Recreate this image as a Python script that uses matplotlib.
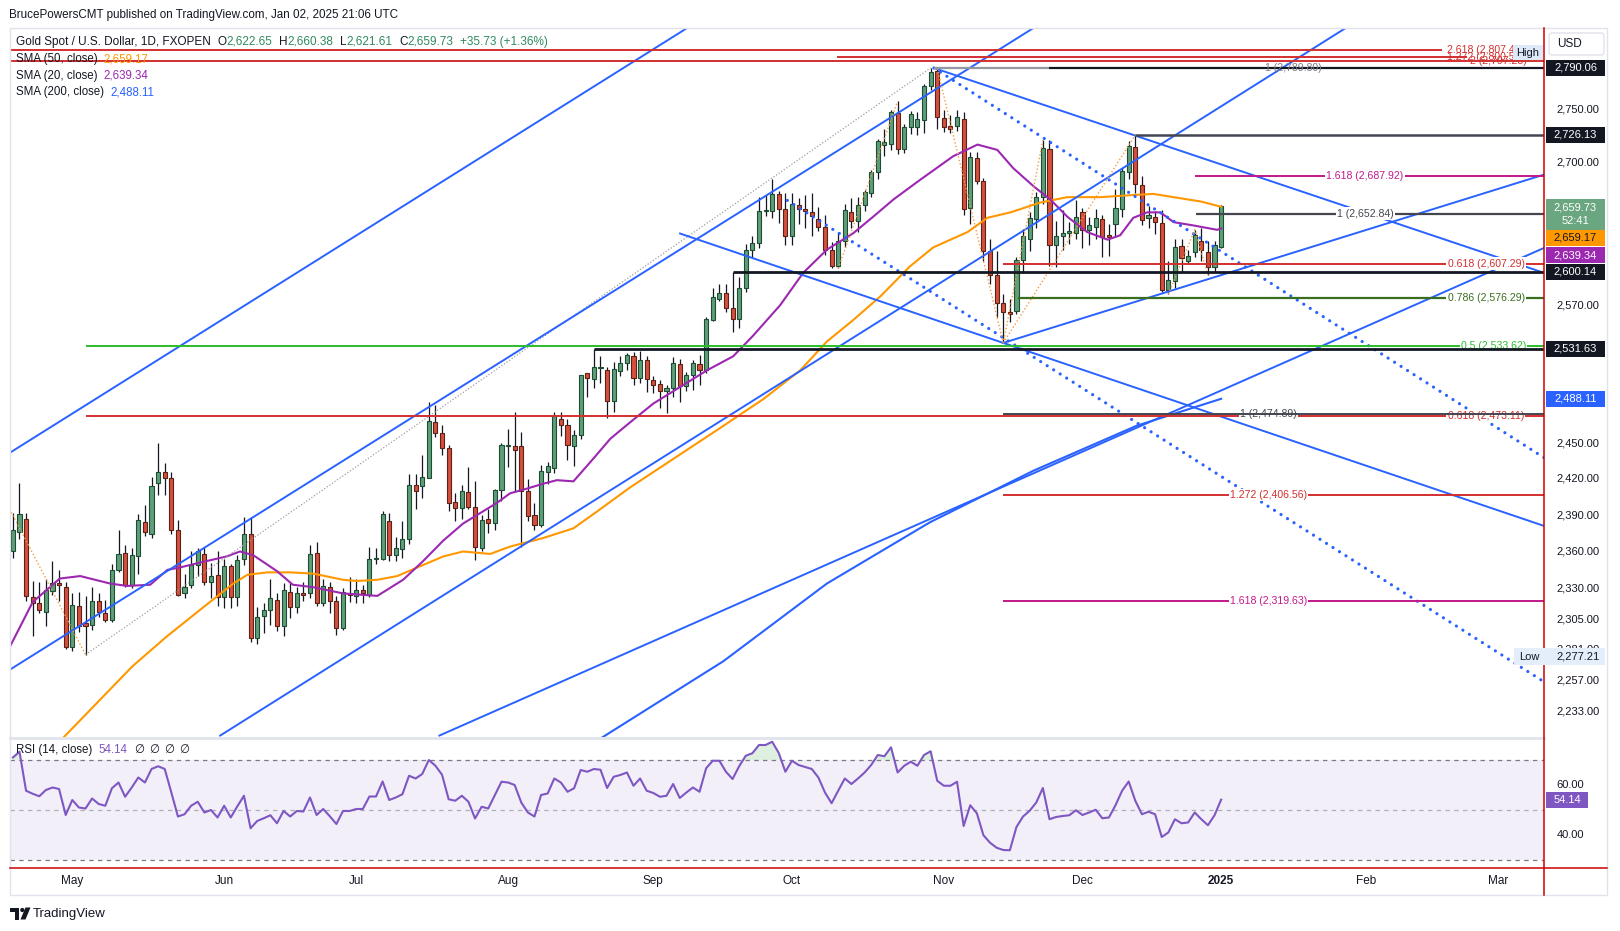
#!/usr/bin/env python3
# Gold Spot / USD daily (FXOPEN) — TradingView style chart, SMA 20/50/200, fib levels, RSI(14)
import numpy as np
import matplotlib
matplotlib.use("Agg")
import matplotlib.pyplot as plt
from matplotlib.patches import Rectangle, FancyBboxPatch, Polygon, Circle

plt.rcParams["font.family"] = ["Liberation Sans", "DejaVu Sans"]

W, H = 1620, 931

# ── candles: Apr 18 2024 .. Jan 02 2025, bar 0 = May 1 ─────────────
FIRST = -9
o_apr = [2360, 2376, 2387, 2323, 2318, 2311, 2328, 2334, 2331]
h_apr = [2392, 2417, 2392, 2336, 2335, 2338, 2352, 2345, 2335]
l_apr = [2355, 2370, 2320, 2292, 2310, 2300, 2325, 2320, 2282]
c_apr = [2378, 2391, 2324, 2318, 2313, 2329, 2334, 2333, 2283]

o_may = [2283, 2316, 2302, 2301, 2320, 2310, 2305, 2345, 2359, 2333, 2356, 2384, 2374, 2417, 2426, 2421, 2378, 2326, 2333, 2349, 2358, 2335, 2341]
h_may = [2326, 2327, 2324, 2331, 2326, 2321, 2350, 2378, 2365, 2363, 2391, 2398, 2422, 2450, 2433, 2426, 2386, 2342, 2360, 2363, 2364, 2351, 2360]
l_may = [2280, 2295, 2277.2, 2297, 2307, 2303, 2303, 2343, 2331, 2330, 2342, 2373, 2371, 2407, 2407, 2374, 2324, 2322, 2330, 2340, 2333, 2322, 2316]
c_may = [2317, 2300, 2300, 2320, 2311, 2305, 2345, 2358, 2333, 2357, 2386, 2376, 2414, 2426, 2421, 2378, 2325, 2331, 2349, 2360, 2335, 2340, 2323]

o_jun = [2323, 2348, 2323, 2354, 2374, 2290, 2308, 2313, 2321, 2300, 2327, 2315, 2326, 2326, 2359, 2318, 2331, 2320, 2298, 2326]
h_jun = [2354, 2350, 2357, 2388, 2388, 2315, 2318, 2338, 2326, 2334, 2334, 2331, 2335, 2365, 2368, 2338, 2335, 2324, 2330, 2339]
l_jun = [2314, 2314, 2316, 2349, 2287, 2286, 2294, 2301, 2296, 2292, 2306, 2310, 2320, 2322, 2316, 2316, 2310, 2293, 2297, 2319]
c_jun = [2348, 2323, 2353, 2374, 2290, 2307, 2313, 2322, 2300, 2329, 2315, 2326, 2325, 2358, 2318, 2332, 2320, 2298, 2327, 2325]

o_jul = [2324, 2329, 2325, 2354, 2354, 2385, 2357, 2362, 2370, 2415, 2414, 2421, 2468, 2459, 2446, 2401, 2396, 2409, 2397, 2363, 2387, 2383, 2411]
h_jul = [2338, 2333, 2364, 2363, 2393, 2392, 2372, 2385, 2424, 2424, 2440, 2485, 2483, 2466, 2449, 2408, 2415, 2430, 2418, 2390, 2395, 2412, 2450]
l_jul = [2318, 2318, 2323, 2350, 2353, 2352, 2352, 2355, 2366, 2395, 2404, 2421, 2455, 2440, 2393, 2385, 2387, 2395, 2353, 2360, 2375, 2378, 2402]
c_jul = [2329, 2326, 2354, 2355, 2391, 2357, 2363, 2370, 2415, 2410, 2422, 2469, 2459, 2446, 2400, 2396, 2410, 2397, 2364, 2386, 2383, 2411, 2449]

o_aug = [2448, 2448, 2448, 2410, 2390, 2382, 2426, 2429, 2471, 2466, 2448, 2457, 2510, 2505, 2515, 2513, 2486, 2512, 2519, 2525, 2506, 2522]
h_aug = [2462, 2477, 2460, 2420, 2400, 2432, 2434, 2477, 2477, 2471, 2461, 2509, 2510, 2531.6, 2525, 2516, 2520, 2525, 2528, 2529, 2530, 2525]
l_aug = [2430, 2410, 2364, 2385, 2378, 2380, 2416, 2425, 2456, 2436, 2431, 2454, 2490, 2497, 2502, 2472, 2477, 2508, 2513, 2500, 2502, 2494]
c_aug = [2448.5, 2444, 2410, 2389, 2382, 2427, 2431, 2473, 2466, 2449, 2457, 2509, 2506, 2516, 2515.5, 2486, 2514, 2519, 2526, 2506, 2522, 2505]

o_sep = [2504, 2501, 2495, 2497, 2518, 2499, 2509, 2518, 2513, 2557, 2576, 2581, 2568, 2558, 2585, 2620, 2626, 2655, 2655, 2671, 2657]
h_sep = [2508, 2504, 2500, 2524, 2523, 2511, 2522, 2526, 2560, 2585, 2589, 2589, 2600.1, 2595, 2625, 2632, 2668, 2670, 2685, 2674, 2672]
l_sep = [2493, 2480, 2476, 2490, 2485, 2495, 2496, 2500, 2510, 2556, 2574, 2564, 2546, 2550, 2582, 2612, 2621, 2651, 2649, 2644, 2624]
c_sep = [2500, 2495, 2497, 2519, 2499, 2509, 2519, 2513, 2558, 2577, 2581, 2568, 2558, 2585, 2620, 2626, 2655, 2655.5, 2671, 2657, 2632]

o_oct = [2632, 2661, 2657, 2654, 2648, 2641, 2620, 2605, 2628, 2654, 2646, 2661, 2672, 2691, 2717, 2718, 2747, 2713, 2734, 2734, 2740, 2773, 2787]
h_oct = [2672, 2667, 2670, 2672, 2659, 2652, 2627, 2636, 2662, 2667, 2668, 2675, 2693, 2722, 2732, 2750, 2758, 2736, 2749, 2748, 2775, 2790.06, 2789.5]
l_oct = [2624, 2643, 2640, 2632, 2637, 2615, 2603, 2603, 2622, 2640, 2636, 2655, 2668, 2685, 2706, 2712, 2708, 2709, 2727, 2726, 2728, 2769, 2732]
c_oct = [2662, 2657, 2655, 2651, 2641, 2620, 2605, 2628, 2656, 2646, 2661, 2673, 2691, 2720, 2719, 2748, 2713, 2734, 2746, 2741, 2773, 2786, 2743]

o_nov = [2742, 2735, 2735, 2741, 2658, 2704, 2683, 2619, 2597, 2572, 2564, 2565, 2611, 2630, 2648, 2668, 2713, 2624, 2632, 2635, 2635]
h_nov = [2750, 2745, 2750, 2748, 2710, 2710, 2686, 2630, 2619, 2580, 2576, 2613, 2639, 2654, 2673, 2721, 2721, 2646, 2656, 2645, 2665]
l_nov = [2729, 2728, 2730, 2652, 2643, 2680, 2610, 2589, 2560, 2536.7, 2555, 2562, 2599, 2619, 2640, 2662, 2605, 2604, 2620, 2625, 2630]
c_nov = [2734, 2732, 2743, 2657, 2705, 2683, 2619, 2597, 2572, 2564, 2562, 2611, 2632, 2649, 2668, 2714, 2624, 2632, 2635, 2637, 2650]

o_dec = [2654, 2638, 2641, 2648, 2633, 2643, 2657, 2691, 2715, 2679, 2649, 2650, 2644, 2584, 2592, 2623, 2610, 2618, 2628, 2618, 2604, 2622.65]
h_dec = [2658, 2650, 2657, 2652, 2643, 2676, 2695, 2720, 2726.1, 2688, 2660, 2655, 2656, 2610, 2630, 2630, 2620, 2638, 2640, 2628, 2628, 2660.38]
l_dec = [2621, 2624, 2630, 2613, 2614, 2631, 2650, 2685, 2672, 2642, 2640, 2634, 2582, 2580, 2585, 2600, 2607, 2613, 2610, 2597, 2600, 2621.61]
c_dec = [2638, 2642, 2649, 2631, 2631.5, 2658, 2692, 2716, 2680, 2647, 2652, 2645, 2584, 2593, 2622, 2612, 2614, 2633, 2620, 2604, 2624, 2659.73]

opens = o_apr + o_may + o_jun + o_jul + o_aug + o_sep + o_oct + o_nov + o_dec
highs = h_apr + h_may + h_jun + h_jul + h_aug + h_sep + h_oct + h_nov + h_dec
lows = l_apr + l_may + l_jun + l_jul + l_aug + l_sep + l_oct + l_nov + l_dec
closes = c_apr + c_may + c_jun + c_jul + c_aug + c_sep + c_oct + c_nov + c_dec

# RSI(14) read per bar
rsi = [71, 73.3, 57.7, 56.5, 55.5, 58, 59, 58.4, 48,
       54, 51, 50.6, 54.6, 52.4, 51.7, 58.7, 61, 55.3, 59,
       63, 61, 66.4, 67.5, 66.4, 57, 47.4, 48.3, 51.7, 53.3,
       49, 50, 47, 51.7, 47, 51.5, 55.7, 42.7, 45.6, 46.7,
       47.9, 44.7, 49.6, 47.4, 49.6, 49.4, 55, 48, 50.4, 47.5,
       44.4, 49.6, 49.6, 50.4, 50.4, 55.4, 55.4, 61.4, 54, 55,
       56.3, 63.7, 62.6, 64.4, 70, 67.7, 64.1, 54.3, 53.7, 55.7,
       53.3, 46.6, 51.3, 50.6, 56, 61.3, 61, 60, 53, 49,
       47.4, 56, 56.6, 62.6, 61, 57.3, 58.7, 66, 65.3, 66.4,
       66.1, 58.8, 63.3, 64, 65, 59.7, 62.6, 57.7, 56.8, 55.3,
       55.7, 60.4, 54.8, 57, 59, 57.3, 66.7, 69.7, 69.7, 65.3,
       62.4, 67.5, 71.7, 72.7, 76, 76, 77.3, 72.8, 65.3, 69.7,
       68.0, 67.2, 66.4, 63.0, 57.0, 52.7, 57.7, 62.6, 60.4, 62.6,
       65.0, 68.0, 72.0, 71.5, 75.1, 65.0, 67.7, 69.3, 67.7, 72.0,
       73.5, 61.7, 59.7, 59.7, 61.3, 43.6, 51.9, 48.7, 39.9, 36.9,
       34.9, 34.0, 33.9, 43.2, 47.4, 49.7, 53.0, 58.8, 46.3, 47.2,
       47.6, 47.9, 49.9, 48.0, 49.0, 50.1, 46.7, 47.0, 51.9, 57.7,
       61.4, 53.7, 48.3, 49.3, 48.3, 39.2, 41.0, 46.3, 44.7, 45.0,
       49.0, 46.3, 43.9, 47.9, 54.14]

# moving averages (bar, price)
sma20_x = [-9.4, -6.0, -1.9, 1.2, 5.7, 8.3, 11.8, 14.4, 16.3, 19.4, 23.4, 25.4, 27.4, 31.0, 33.4, 36.5,
           41.0, 46.2, 50.1, 53.1, 56.2, 59.2, 61.3, 64.3, 66.3, 68.9, 71.3, 73.4, 75.9, 78.9, 81.5,
           84.5, 88.0, 93.1, 96.2, 100.1, 103.1, 107.2, 110.7, 114.3, 118.3, 121.3, 124.4, 128.4,
           133.4, 137.1, 140.1, 142.5, 145.6, 148.1, 150.7, 153.7, 156.8, 158.7, 160.7, 162.8, 164.8,
           166.8, 169.8, 173.4, 174]
sma20_y = [2284, 2319, 2338, 2340, 2334, 2332, 2333, 2345, 2347, 2351, 2356, 2360, 2357, 2344, 2333, 2331,
           2326, 2324, 2337, 2352, 2369, 2383, 2390, 2400, 2408, 2412, 2416, 2419, 2418, 2437, 2454,
           2468, 2484, 2502, 2513, 2525, 2543, 2570, 2599, 2620, 2635, 2650, 2666, 2684,
           2706, 2717, 2712, 2695, 2678, 2666, 2650, 2636, 2629, 2633, 2649, 2654, 2654,
           2645, 2642, 2638, 2639.34]
sma50_x = [-1.3, 9.1, 14.4, 19.4, 24.4, 26.5, 29.5, 33.0, 36.5, 41.0, 43.1, 46.2, 49.2, 52.7, 56.2, 59.2,
           63.3, 66.3, 71.3, 75.9, 79.5, 84.5, 98.1, 104.7, 110.3, 114.3, 118.3, 122.4, 126.9, 130.4,
           135.6, 138.6, 142.1, 146.6, 150.7, 155.7, 160.7, 163.7, 166.8, 170.9, 174]
sma50_y = [2213, 2268, 2292, 2313, 2334, 2341, 2343, 2343, 2342, 2337, 2336, 2337, 2340, 2348, 2356, 2360,
           2358, 2364, 2371, 2379, 2393, 2413, 2463, 2488, 2513, 2538, 2557, 2578, 2605, 2622,
           2636, 2649, 2654, 2663, 2668, 2668, 2670, 2671, 2668, 2664, 2659.17]
sma200_x = [80.3, 98.6, 114.3, 129.9, 145.6, 161.2, 174]
sma200_y = [2213, 2272, 2334, 2384, 2427, 2465, 2488.11]

# drawings (bar, price) -> (bar, price)
trend_solid = [(-9.39, 2442.3, 93.15, 2829.0),     # upper channel
               (-9.39, 2265.6, 145.6, 2829.0),     # mid channel
               (22.4, 2214.3, 192.9, 2829.0),      # lower channel
               (130.5, 2790.0, 222.9, 2599.0),     # from top
               (92.05, 2634.6, 222.9, 2381.0),
               (141.0, 2536.7, 222.9, 2688.9),     # from Nov low
               (55.6, 2214.3, 222.9, 2621.5)]
trend_dotted = [(130.5, 2790.0, 222.9, 2437.9),
                (108.3, 2665.0, 222.9, 2255.9)]
zigzag = [[(-9.5, 2395), (2, 2277.2)],
          [(116, 2603), (125, 2758)],
          [(131, 2789.5), (141, 2536.7), (147, 2721)],
          [(141, 2536.7), (161, 2726.1)],
          [(166, 2580), (170, 2638), (172, 2597)]]
gray_dotted = (2, 2277.2, 130, 2790.06)

RED, MAG, DKG, GRN, BLK, DGR = "#d32f2f", "#c2188b", "#386e1e", "#2bbd2b", "#131722", "#434651"
h_levels = [(2807.46, -9.39, 207.5, RED, 1.4, 4),
            (2800.52, 115.8, 211.3, RED, 1.4, 4),
            (2797.23, -9.39, 222.9, RED, 1.4, 4),
            (2789.80, 130.5, 148.0, "#9598a1", 1.6, 4),
            (2790.06, 148.0, 222.9, BLK, 1.6, 4),
            (2726.13, 161.0, 222.9, DGR, 1.8, 4),
            (2687.92, 170.0, 222.9, MAG, 1.4, 4),
            (2652.84, 170.2, 222.9, DGR, 1.6, 4),
            (2607.29, 141.0, 222.9, RED, 1.4, 4),
            (2600.14, 100.0, 222.9, BLK, 2.0, 6),
            (2576.29, 143.2, 222.9, DKG, 1.6, 4),
            (2533.62, 2.0, 222.9, GRN, 1.4, 4),
            (2531.63, 79.0, 222.9, BLK, 2.0, 6),
            (2474.89, 141.0, 222.9, DGR, 1.4, 6),
            (2473.11, 2.0, 222.9, RED, 1.4, 4),
            (2406.56, 141.0, 222.9, RED, 1.4, 4),
            (2319.63, 141.0, 222.9, MAG, 1.4, 4)]
fib_labels = [("2.618 (2,807.46)", 208.2, 2807.46, RED, False),
              ("1.272 (2,800.52)", 208.2, 2800.52, RED, False),
              ("2 (2,797.23)", 211.7, 2797.23, RED, False),
              ("1 (2,789.80)", 180.7, 2789.80, "#787b86", False),
              ("1.618 (2,687.92)", 189.9, 2687.92, MAG, True),
              ("1 (2,652.84)", 191.5, 2652.84, DGR, True),
              ("0.618 (2,607.29)", 208.3, 2607.29, RED, True),
              ("0.786 (2,576.29)", 208.3, 2576.29, DKG, True),
              ("0.5 (2,533.62)", 210.3, 2533.62, GRN, True),
              ("1 (2,474.89)", 176.9, 2474.89, DGR, True),
              ("0.618 (2,473.11)", 208.3, 2473.11, RED, True),
              ("1.272 (2,406.56)", 175.3, 2406.56, RED, True),
              ("1.618 (2,319.63)", 175.3, 2319.63, MAG, True)]

price_ticks = [2750, 2700, 2570, 2450, 2420, 2390, 2360, 2330, 2305, 2281, 2257, 2233]
month_pos = [0, 23, 43, 66, 88, 109, 132, 153, 174, 196, 216]
month_lbl = ["May", "Jun", "Jul", "Aug", "Sep", "Oct", "Nov", "Dec", "2025", "Feb", "Mar"]

# ── figure ─────────────────────────────────────────────
fig = plt.figure(figsize=(W / 100, H / 100), dpi=100)
fig.patch.set_facecolor("white")
L, R, T1, B1, T2, B2 = 10.3, 1544, 28, 737, 739, 868
ax = fig.add_axes([L / W, 1 - B1 / H, (R - L) / W, (B1 - T1) / H])
rax = fig.add_axes([L / W, 1 - B2 / H, (R - L) / W, (B2 - T2) / H])
ov = fig.add_axes([0, 0, 1, 1], zorder=10)
ov.set_xlim(0, W); ov.set_ylim(H, 0); ov.set_axis_off(); ov.patch.set_alpha(0)

XMIN, XMAX = -9.39, 222.9
ax.set_yscale("log")
ax.set_xlim(XMIN, XMAX); ax.set_ylim(2213.2, 2828.9)
ax.set_axis_off()
rax.set_xlim(XMIN, XMAX); rax.set_ylim(26.8, 78.4)
rax.set_axis_off()

x = np.arange(len(closes)) + FIRST
o, hi, lo, c = map(np.array, (opens, highs, lows, closes))
up = c >= o
UP, UPE, DN, DNE = "#5e9e79", "#1f4d33", "#d4503d", "#5c2218"
ax.vlines(x, lo, hi, color=BLK, lw=0.9, zorder=2)
bot = np.minimum(o, c); top = np.maximum(np.maximum(o, c), bot + 0.9)
ax.bar(x[up], (top - bot)[up], bottom=bot[up], width=0.62, color=UP, edgecolor=UPE, lw=0.8, zorder=2.2)
ax.bar(x[~up], (top - bot)[~up], bottom=bot[~up], width=0.62, color=DN, edgecolor=DNE, lw=0.8, zorder=2.2)

ax.plot(sma50_x, sma50_y, color="#ff9800", lw=1.5, zorder=3)
ax.plot(sma20_x, sma20_y, color="#9c27b0", lw=1.5, zorder=3)
ax.plot(sma200_x, sma200_y, color="#2962ff", lw=1.5, zorder=3)

for x0, p0, x1, p1 in trend_solid:
    ax.plot([x0, x1], [p0, p1], color="#2962ff", lw=1.4, zorder=4)
for x0, p0, x1, p1 in trend_dotted:
    ax.plot([x0, x1], [p0, p1], color="#2962ff", lw=2.3, ls=(0, (0.01, 2.4)),
            dash_capstyle="round", zorder=4)
for seg in zigzag:
    ax.plot([s[0] for s in seg], [s[1] for s in seg], color="#f59b42", lw=1.0,
            ls=(0, (1, 1.6)), zorder=4)
gx0, gp0, gx1, gp1 = gray_dotted
ax.plot([gx0, gx1], [gp0, gp1], color="#9e9e9e", lw=0.9, ls=(0, (1, 1.5)), zorder=3.5)

for p, x0, x1, col, lw, z in h_levels:
    ax.plot([x0, x1], [p, p], color=col, lw=lw, zorder=z, solid_capstyle="butt")
for s, xx, p, col, bg in fib_labels:
    kw = dict(bbox=dict(fc="white", ec="none", pad=0.8)) if bg else {}
    ax.text(xx, p, s, color=col, fontsize=7.6, va="center", ha="left", zorder=5, **kw)

# RSI panel
xr = np.arange(len(rsi)) + FIRST
rr = np.array(rsi)
rax.axhspan(30, 70, color="#7e57c2", alpha=0.09, lw=0, zorder=0)
rax.fill_between(xr, 70, rr, where=rr > 70, interpolate=True, color="#4caf50", alpha=0.18, lw=0, zorder=1)
for lvl, a in ((70, 1), (50, 0.55), (30, 1)):
    rax.axhline(lvl, color="#787b86", lw=0.9, ls=(0, (3.5, 3.5)), alpha=a, zorder=1)
rax.plot(xr, rr, color="#7e57c2", lw=1.5, zorder=3)

# ── frame / axes chrome ───────────────────────────────
def ypx(p):
    return H - ax.transData.transform((0, p))[1]

def ypr(v):
    return H - rax.transData.transform((0, v))[1]

def xpx(b):
    return ax.transData.transform((b, 2500))[0]

ov.add_patch(Rectangle((10.3, 27.9), 1596.3, 866.8, fill=False, ec="#e0e3eb", lw=1.0))
ov.plot([10.3, 1544], [738, 738], color="#e0e3eb", lw=2)
ov.plot([1544, 1544], [27.9, 894.7], color="#cc0000", lw=1.1)
ov.plot([10.3, 1606.6], [868, 868], color="#cc0000", lw=1.1)

for p in price_ticks:
    ov.text(1556.5, ypx(p), f"{p:,.2f}", fontsize=8, color=BLK, va="center", ha="left")
for v in (60, 40):
    ov.text(1556.5, ypr(v), f"{v:.2f}", fontsize=8, color=BLK, va="center", ha="left")

def pbox(yc, txt, fc, tc, x0=1546, x1=1605, h=16):
    ov.add_patch(Rectangle((x0, yc - h / 2), x1 - x0, h, fc=fc, ec="none", zorder=11))
    ov.text((x0 + x1) / 2, yc, txt, fontsize=8, color=tc, va="center", ha="center", zorder=12)

pbox(ypx(2790.06), "2,790.06", BLK, "white")
pbox(ypx(2726.13), "2,726.13", BLK, "white")
ov.add_patch(Rectangle((1546, 199), 59, 30.5, fc="#6aa67f", ec="none", zorder=11))
ov.text(1575.5, 207, "2,659.73", fontsize=8, color="white", va="center", ha="center", zorder=12)
ov.text(1575.5, 221.5, "52:41", fontsize=8, color="white", va="center", ha="center", zorder=12)
pbox(237.5, "2,659.17", "#ff9800", BLK)
pbox(255, "2,639.34", "#9c27b0", "white")
pbox(ypx(2600.14), "2,600.14", BLK, "white")
pbox(ypx(2531.63), "2,531.63", BLK, "white")
pbox(ypx(2488.11), "2,488.11", "#2962ff", "white")
pbox(ypr(54.14), "54.14", "#7e57c2", "white", x1=1588)

ov.add_patch(FancyBboxPatch((1549, 33), 55, 22, boxstyle="round,pad=0,rounding_size=3",
                            fc="white", ec="#e0e3eb", lw=1, zorder=11))
ov.text(1557, 44, "USD", fontsize=8.5, color=BLK, va="center", ha="left", zorder=12)
ov.add_patch(Rectangle((1513, 45), 30, 15, fc="#dde9f8", ec="none", zorder=11))
ov.text(1528, 52.5, "High", fontsize=8, color=BLK, va="center", ha="center", zorder=12)
ov.add_patch(Rectangle((1514, 648), 91, 17, fc="#e3eefa", ec="none", zorder=11))
ov.text(1519, 656.5, "Low", fontsize=8, color=BLK, va="center", ha="left", zorder=12)
ov.text(1556.5, 656.5, "2,277.21", fontsize=8, color=BLK, va="center", ha="left", zorder=12)

for pos, lb in zip(month_pos, month_lbl):
    ov.text(xpx(pos), 881, lb, fontsize=8.5, color=BLK, va="center", ha="center",
            fontweight="bold" if lb == "2025" else "normal")

# ── header & legends ──────────────────────────────────
rend = fig.canvas.get_renderer()

def chunks(x0, y0, parts, size=8.3):
    for s, col, gap in parts:
        t = ov.text(x0, y0, s, color=col, fontsize=size, va="center", ha="left", zorder=12)
        x0 += t.get_window_extent(renderer=rend).width + gap

ov.text(9, 15, "BrucePowersCMT published on TradingView.com, Jan 02, 2025 21:06 UTC",
        fontsize=8.4, color=BLK, va="center", ha="left")
G = "#2e8a5e"
chunks(16, 42, [("Gold Spot / U.S. Dollar, 1D, FXOPEN", BLK, 7), ("O", BLK, 0), ("2,622.65", G, 6.5),
                ("H", BLK, 0), ("2,660.38", G, 6.5), ("L", BLK, 0), ("2,621.61", G, 6.5),
                ("C", BLK, 0), ("2,659.73", G, 6.5), ("+35.73 (+1.36%)", G, 0)], size=8.5)
chunks(16, 59, [("SMA (50, close)", BLK, 6), ("2,659.17", "#ff9800", 0)])
chunks(16, 76, [("SMA (20, close)", BLK, 6), ("2,639.34", "#9c27b0", 0)])
chunks(16, 92.5, [("SMA (200, close)", BLK, 6), ("2,488.11", "#2962ff", 0)])
chunks(16, 750, [("RSI (14, close)", BLK, 6), ("54.14", "#7e57c2", 7), ("\u2205", BLK, 5),
                 ("\u2205", BLK, 5), ("\u2205", BLK, 5), ("\u2205", BLK, 0)])

# TradingView logo
ov.add_patch(Rectangle((10, 907.5), 9, 4, fc=BLK, ec="none"))
ov.add_patch(Rectangle((14.5, 907.5), 4.5, 12, fc=BLK, ec="none"))
ov.add_patch(Circle((22.3, 910), 2.1, fc=BLK, ec="none"))
ov.add_patch(Polygon([(20.5, 919.5), (25.5, 907.5), (30.5, 907.5), (25.5, 919.5)], fc=BLK, ec="none"))
ov.text(33, 914, "TradingView", fontsize=9.5, color=BLK, va="center", ha="left")

fig.savefig("out.png", dpi=100, facecolor="white")
